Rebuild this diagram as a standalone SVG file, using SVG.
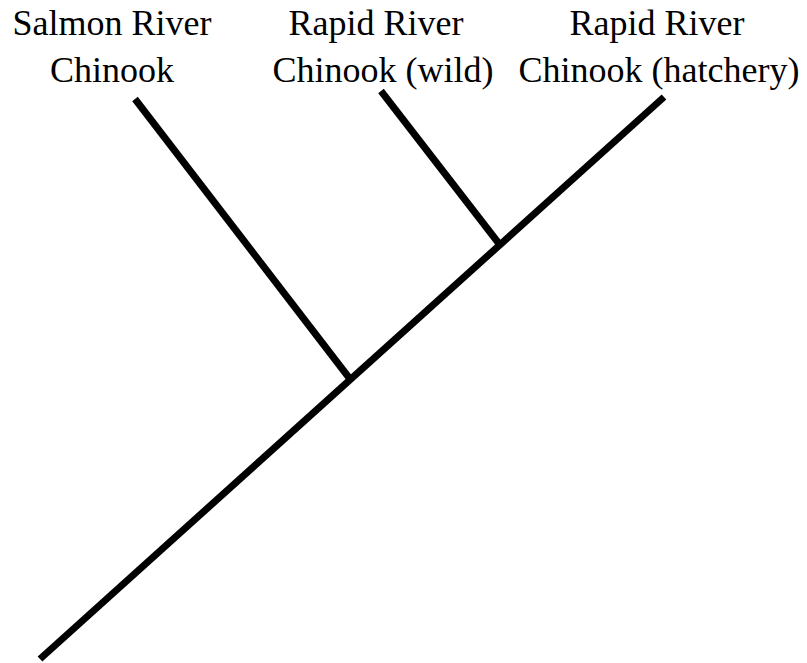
<svg xmlns="http://www.w3.org/2000/svg" width="807" height="663" viewBox="0 0 807 663">
  <style>
    .label { font-size: 36px; fill: #000; text-anchor: middle; }
    .edge { stroke: #000; stroke-width: 7; stroke-linecap: butt; fill: none; }
  </style>
  <rect width="807" height="663" fill="#fff"/>
  <g id="connectors">
    <!-- trunk from root to the hatchery tip -->
    <line class="edge" x1="40" y1="659" x2="664" y2="97"/>
    <!-- branch to Salmon River -->
    <line class="edge" x1="135" y1="99" x2="350" y2="379"/>
    <!-- branch to Rapid River (wild) -->
    <line class="edge" x1="381" y1="91" x2="500" y2="245"/>
  </g>
  <g font-family="Liberation Serif, Times New Roman, DejaVu Serif, serif">
    <g id="salmon-river">
      <text class="label" x="112" y="35">Salmon River</text>
      <text class="label" x="112" y="82">Chinook</text>
    </g>
    <g id="rapid-river-wild">
      <text class="label" x="376" y="35">Rapid River</text>
      <text class="label" x="383" y="82">Chinook (wild)</text>
    </g>
    <g id="rapid-river-hatchery">
      <text class="label" x="657" y="35">Rapid River</text>
      <text class="label" x="659" y="82">Chinook (hatchery)</text>
    </g>
  </g>
</svg>
